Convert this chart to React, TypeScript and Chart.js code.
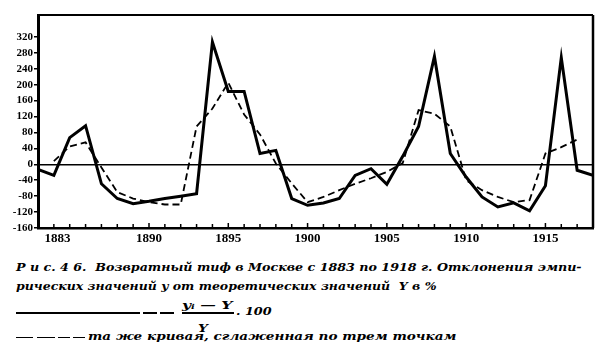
import React, { useEffect, useLayoutEffect, useRef } from 'react';
import { Chart, registerables } from 'chart.js';

Chart.register(...registerables);

// ---- data ----
const years = [
  1883, 1884, 1885, 1886, 1887, 1888, 1889, 1890, 1891, 1892, 1893, 1894,
  1895, 1896, 1897, 1898, 1899, 1900, 1901, 1902, 1903, 1904, 1905, 1906,
  1907, 1908, 1909, 1910, 1911, 1912, 1913, 1914, 1915, 1916, 1917, 1918,
];
// deviation (y_i - Y) / Y * 100, solid line
const deviation = [
  -13, -28, 67, 97, -49, -86, -99, -93, -86, -80, -74, 307,
  183, 183, 27, 35, -86, -103, -97, -86, -28, -11, -50, 20,
  95, 271, 27, -32, -82, -107, -97, -117, -54, 268, -15, -28,
];
// same curve smoothed over three points, dashed line
const smoothed = [
  null, 8, 45, 55, -8, -70, -86, -95, -101, -101, 95, 140,
  205, 125, 75, 2, -48, -95, -82, -65, -49, -35, -19, 3,
  136, 127, 95, -40, -65, -82, -95, -90, 27, 43, 62, null,
];
const yTickValues = [-160, -120, -80, -40, 0, 40, 80, 120, 160, 200, 240, 280, 320];
const xLabelYears = [1883, 1890, 1895, 1900, 1905, 1910, 1915];

const captionLine1 = 'Р и с. 4 6.  Возвратный тиф в Москве с 1883 по 1918 г. Отклонения эмпи-';
const captionLine2 = 'рических значений y от теоретических значений  Y в %';
const legendSmoothed = 'та же кривая, сглаженная по трем точкам';

const TICK_FONT = 'Liberation Serif';
const CAPTION_FONT = '"DejaVu Serif", serif';

function FitText(props: { text?: string; left: number; baseline: number; width: number; size: number; children?: any }) {
  const ref = useRef<HTMLDivElement | null>(null);
  useLayoutEffect(() => {
    const fit = () => {
      const el = ref.current;
      if (!el) return;
      el.style.transform = 'none';
      const w = el.offsetWidth;
      if (w > 0) el.style.transform = `scaleX(${props.width / w})`;
    };
    fit();
    if ((document as any).fonts && (document as any).fonts.ready) {
      (document as any).fonts.ready.then(fit);
    }
  }, [props.text, props.width]);
  const top = props.baseline - 0.93 * props.size;
  return (
    <div
      ref={ref}
      style={{
        position: 'absolute',
        left: props.left,
        top,
        fontFamily: CAPTION_FONT,
        fontStyle: 'italic',
        fontWeight: 'bold',
        fontSize: props.size,
        lineHeight: `${props.size}px`,
        whiteSpace: 'pre',
        transformOrigin: '0 0',
        color: '#000',
      }}
    >
      {props.children ?? props.text}
    </div>
  );
}

function Bar(props: { x1: number; x2: number; y: number; h?: number }) {
  const h = props.h ?? 2;
  return (
    <div
      style={{
        position: 'absolute',
        left: props.x1,
        top: props.y - h / 2,
        width: props.x2 - props.x1,
        height: h,
        background: '#000',
      }}
    />
  );
}

const framePlugin = {
  id: 'frame',
  afterDraw(chart: any) {
    const { ctx, chartArea } = chart;
    const xs = chart.scales.x;
    ctx.save();
    ctx.strokeStyle = '#000';
    ctx.lineWidth = 2;
    ctx.beginPath();
    ctx.moveTo(chartArea.left, chartArea.top);
    ctx.lineTo(chartArea.right, chartArea.top);
    ctx.stroke();
    ctx.lineWidth = 2.5;
    ctx.beginPath();
    ctx.moveTo(chartArea.right, chartArea.top);
    ctx.lineTo(chartArea.right, chartArea.bottom);
    ctx.stroke();
    ctx.lineWidth = 1.5;
    for (const yr of years) {
      const x = xs.getPixelForValue(yr);
      const len = xLabelYears.includes(yr) ? 5 : 4;
      ctx.beginPath();
      ctx.moveTo(x, chartArea.bottom);
      ctx.lineTo(x, chartArea.bottom - len);
      ctx.stroke();
    }
    ctx.restore();
  },
};

export default function App() {
  const canvasRef = useRef<HTMLCanvasElement | null>(null);

  useEffect(() => {
    if (!canvasRef.current) return;
    const chart = new Chart(canvasRef.current, {
      type: 'line',
      data: {
        datasets: [
          {
            label: 'deviation',
            data: years.map((yr, i) => ({ x: yr, y: deviation[i] })),
            borderColor: '#000',
            borderWidth: 3,
            pointRadius: 0,
            tension: 0,
            fill: false,
            borderJoinStyle: 'miter',
          },
          {
            label: 'smoothed',
            data: years.map((yr, i) => ({ x: yr, y: smoothed[i] as any })),
            borderColor: '#000',
            borderWidth: 1.8,
            borderDash: [7, 4],
            pointRadius: 0,
            tension: 0,
            fill: false,
            spanGaps: false,
          },
        ],
      },
      options: {
        responsive: false,
        animation: false,
        devicePixelRatio: 1,
        layout: { padding: { left: 0, top: 15, right: 4, bottom: 0 } },
        plugins: {
          legend: { display: false },
          tooltip: { enabled: false },
        },
        scales: {
          x: {
            type: 'linear',
            min: 1883,
            max: 1918,
            afterFit: (s: any) => {
              s.height = 22;
            },
            afterBuildTicks: (s: any) => {
              s.ticks = years.map((v) => ({ value: v }));
            },
            ticks: {
              autoSkip: false,
              maxRotation: 0,
              minRotation: 0,
              padding: 3,
              color: '#000',
              font: { family: TICK_FONT, weight: 'bold', size: 13 },
              callback: (v: any) => {
                const n = Number(v);
                if (n === 1883) return '\u2003\u2003\u20031883';
                return xLabelYears.includes(n) ? String(n) : '';
              },
            },
            grid: { display: true, drawOnChartArea: false, drawTicks: false },
            border: { display: true, color: '#000', width: 2.5 },
          },
          y: {
            type: 'linear',
            min: -160,
            max: 375,
            afterFit: (s: any) => {
              s.width = 38;
            },
            afterBuildTicks: (s: any) => {
              s.ticks = yTickValues.map((v) => ({ value: v }));
            },
            ticks: {
              padding: 1,
              color: '#000',
              font: { family: TICK_FONT, weight: 'bold', size: 11 },
              callback: (v: any) => String(v),
            },
            grid: {
              drawOnChartArea: true,
              drawTicks: true,
              tickLength: 4,
              tickColor: '#000',
              lineWidth: 1.5,
              color: (c: any) => (c.tick && c.tick.value === 0 ? '#000' : 'rgba(0,0,0,0)'),
            },
            border: { display: true, color: '#000', width: 3 },
          },
        },
      } as any,
      plugins: [framePlugin],
    });
    return () => chart.destroy();
  }, []);

  return (
    <div style={{ position: 'absolute', left: 0, top: 0, width: 597, height: 360, background: '#fff', overflow: 'hidden' }}>
      <canvas ref={canvasRef} width={597} height={250} style={{ position: 'absolute', left: 0, top: 0, width: 597, height: 250 }} />
      <FitText text={captionLine1} left={16} baseline={272.5} width={566} size={11} />
      <FitText text={captionLine2} left={16} baseline={291} width={421} size={11} />
      <Bar x1={16} x2={140} y={313} h={2} />
      <Bar x1={143} x2={157} y={313} h={1.5} />
      <Bar x1={160} x2={174} y={313} h={1.5} />
      <FitText left={182} baseline={310.5} width={51} size={11}>
        <span>y</span>
        <span style={{ fontSize: 7 }}>i</span>
        <span>{' \u2014 Y'}</span>
      </FitText>
      <Bar x1={182} x2={234} y={313} h={1.5} />
      <FitText text={'. 100'} left={236} baseline={316} width={36} size={11} />
      <FitText text={'Y'} left={198} baseline={333} width={10} size={11} />
      <Bar x1={16} x2={33} y={337.5} h={1.8} />
      <Bar x1={37} x2={55} y={337.5} h={1.8} />
      <Bar x1={58} x2={70} y={337.5} h={1.8} />
      <Bar x1={73} x2={85} y={337.5} h={1.8} />
      <FitText text={legendSmoothed} left={88} baseline={341} width={369} size={11} />
    </div>
  );
}
